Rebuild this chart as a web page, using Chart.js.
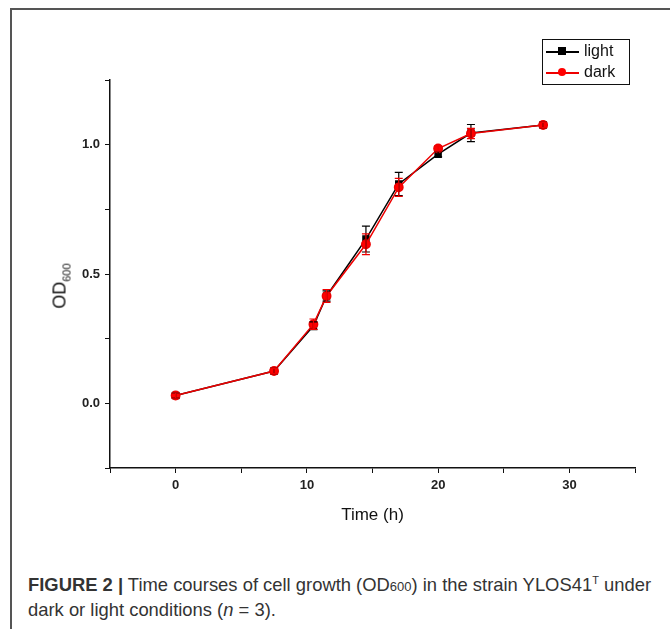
<!DOCTYPE html>
<html>
<head>
<meta charset="utf-8">
<script src="https://cdn.jsdelivr.net/npm/chart.js@4.4.1/dist/chart.umd.min.js"></script>
<style>
  body { margin: 0; background: #fff; width: 670px; height: 629px; overflow: hidden; position: relative; font-family: "Liberation Sans", Arial, sans-serif; }
  #frame { position: absolute; left: 10px; top: 8px; width: 700px; height: 700px; border-left: 2px solid #555; border-top: 2px solid #555; }
  #chartBox { position: absolute; left: 0; top: 0; width: 670px; height: 540px; }
  #ylab { position: absolute; left: 61px; top: 286px; transform: translate(-50%, -50%) rotate(-90deg); font-size: 18px; color: #111; white-space: nowrap; }
  #ylab sub { font-size: 11px; vertical-align: -5px; }
  #legend { position: absolute; left: 542px; top: 39px; width: 86px; height: 44px; border: 1px solid #111; font-size: 16px; color: #111; }
  .row { position: absolute; left: 3px; height: 20px; }
  .row .ln { position: absolute; left: 0; top: 10px; width: 33px; height: 1.5px; }
  .row .mk { position: absolute; left: 12px; top: 6px; width: 8px; height: 8px; }
  .row span { position: absolute; left: 38px; top: 0px; line-height: 20px; }
  #caption { position: absolute; left: 28px; top: 569px; font-size: 18.4px; line-height: 23px; color: #333; white-space: nowrap; }
</style>
</head>
<body>
<div id="frame"></div>
<div id="chartBox"><canvas id="growthChart" width="670" height="540"></canvas></div>
<div id="ylab">OD<sub>600</sub></div>
<div id="legend">
  <div class="row" style="top:1px"><div class="ln" style="background:#000"></div><div class="mk" style="background:#000"></div><span>light</span></div>
  <div class="row" style="top:22px"><div class="ln" style="background:#e00"></div><div class="mk" style="background:#f00;border-radius:50%"></div><span>dark</span></div>
</div>
<div id="caption"><b>FIGURE 2 |</b> Time courses of cell growth (OD<span style="font-size:13px">600</span>) in the strain YLOS41<sup style="font-size:11px">T</sup> under<br>dark or light conditions (<i>n</i> = 3).</div>
<script>
const times = [0, 7.5, 10.5, 11.5, 14.5, 17, 20, 22.5, 28];
const lightOD = [0.03, 0.125, 0.300, 0.415, 0.635, 0.848, 0.963, 1.045, 1.076];
const darkOD = [0.03, 0.125, 0.306, 0.415, 0.615, 0.835, 0.985, 1.043, 1.076];
const lightErr = [0.01, 0.01, 0.015, 0.02, 0.05, 0.045, 0.01, 0.033, 0.01];
const darkErr = [0.01, 0.01, 0.02, 0.025, 0.04, 0.035, 0.01, 0.02, 0.01];

const ctx = document.getElementById("growthChart");

function toPoints(xs, ys) {
  return xs.map((x, i) => ({ x: x, y: ys[i] }));
}

// error bars drawn through the chart's scales
const errorBars = {
  id: "errorBars",
  afterDatasetsDraw(chart) {
    const c = chart.ctx;
    const xs = chart.scales.x;
    const ys = chart.scales.y;
    const sets = [[lightOD, lightErr, "#000"], [darkOD, darkErr, "#e00"]];
    sets.forEach(([vals, errs, col]) => {
      c.save();
      c.strokeStyle = col;
      c.lineWidth = 1.2;
      vals.forEach((v, i) => {
        const px = xs.getPixelForValue(times[i]);
        const top = ys.getPixelForValue(v + errs[i]);
        const bot = ys.getPixelForValue(v - errs[i]);
        c.beginPath();
        c.moveTo(px, top); c.lineTo(px, bot);
        c.moveTo(px - 4, top); c.lineTo(px + 4, top);
        c.moveTo(px - 4, bot); c.lineTo(px + 4, bot);
        c.stroke();
      });
      c.restore();
    });
  }
};

const tickFont = { family: "Liberation Sans", size: 13, weight: "bold" };

new Chart(ctx, {
  type: "scatter",
  data: {
    datasets: [
      {
        label: "light",
        data: toPoints(times, lightOD),
        showLine: true,
        borderColor: "#000",
        backgroundColor: "#000",
        borderWidth: 1.5,
        pointStyle: "rect",
        pointRadius: 4.2,
        order: 2
      },
      {
        label: "dark",
        data: toPoints(times, darkOD),
        showLine: true,
        borderColor: "#e00",
        backgroundColor: "#f00",
        borderWidth: 1.5,
        pointStyle: "circle",
        pointRadius: 4.2,
        order: 1
      }
    ]
  },
  options: {
    responsive: false,
    animation: false,
    layout: { padding: { top: 80, right: 35, left: 0, bottom: 0 } },
    plugins: { legend: { display: false }, tooltip: { enabled: false } },
    scales: {
      x: {
        type: "linear",
        min: -5,
        max: 35,
        afterFit(scale) { scale.height = 72; },
        border: { color: "#111", width: 1.5 },
        grid: { drawOnChartArea: false, drawTicks: true, tickLength: 5, color: "#111" },
        ticks: {
          stepSize: 5,
          padding: 5,
          color: "#222",
          font: tickFont,
          callback: v => (v % 10 === 0 ? v : "")
        },
        title: { display: true, text: "Time (h)", color: "#111", font: { family: "Liberation Sans", size: 17 }, padding: { top: 4, bottom: 14 } }
      },
      y: {
        min: -0.25,
        max: 1.25,
        afterFit(scale) { scale.width = 110; },
        border: { color: "#111", width: 1.5 },
        grid: { drawOnChartArea: false, drawTicks: true, tickLength: 5, color: "#111" },
        ticks: {
          stepSize: 0.25,
          padding: 5,
          color: "#222",
          font: tickFont,
          callback: v => (Math.abs(v * 2 - Math.round(v * 2)) < 1e-6 ? v.toFixed(1) : "")
        }
      }
    }
  },
  plugins: [errorBars]
});
</script>
</body>
</html>
